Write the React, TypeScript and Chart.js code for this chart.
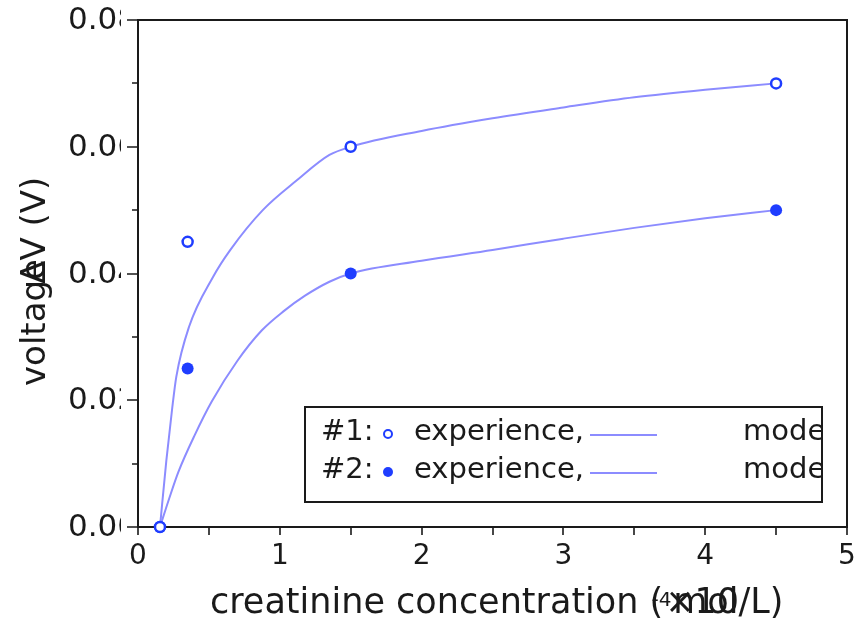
import React, { useEffect, useRef } from "react";
import { Chart, registerables } from "chart.js";

Chart.register(...registerables);

// ---- data ----
const expX = [0.155, 0.35, 1.5, 4.5];
const exp1 = [0, 0.045, 0.06, 0.07];
const exp2 = [0, 0.025, 0.04, 0.05];

const model1X = [0.155, 0.2, 0.24, 0.27, 0.36, 0.53, 0.65, 0.88, 1.12, 1.35, 1.5, 2.0, 2.5, 3.0, 3.5, 4.0, 4.5];
const model1 = [0, 0.0105, 0.0185, 0.0237, 0.0316, 0.0395, 0.0437, 0.05, 0.0547, 0.0587, 0.06, 0.0625, 0.0645, 0.0662, 0.0678, 0.069, 0.07];

const model2X = [0.155, 0.22, 0.285, 0.4, 0.52, 0.7, 0.872, 1.03, 1.178, 1.35, 1.5, 2.0, 2.5, 3.0, 3.5, 4.0, 4.5];
const model2 = [0, 0.0045, 0.0087, 0.0145, 0.0198, 0.0262, 0.031, 0.0341, 0.0365, 0.0387, 0.04, 0.042, 0.0437, 0.0455, 0.0472, 0.0487, 0.05];

const xTickValues = [0, 0.5, 1, 1.5, 2, 2.5, 3, 3.5, 4, 4.5, 5];
const xLabelValues = [0, 1, 2, 3, 4, 5];
const xLabels = ["0", "1", "2", "3", "4", "5"];
const yMajorValues = [0, 0.02, 0.04, 0.06, 0.08];
const yMajorLabels = ["0.00", "0.02", "0.04", "0.06", "0.08"];
const yMinorValues = [0.01, 0.03, 0.05, 0.07];

const legendRows = ["#1:", "#2:"];
const legendExp = "experience,";
const legendModel = "model";

const BLUE = "#1f3dff";
const LINE = "#8c8cff";
const INK = "#1a1a1a";
const FONT = "'DejaVu Sans', sans-serif";

const pts = (xs: number[], ys: number[]) => xs.map((x, i) => ({ x, y: ys[i] }));

const axesPlugin = {
  id: "customAxes",
  beforeDatasetsDraw(chart: any) {
    const { ctx, chartArea: a, scales } = chart;
    const x = scales.x;
    const y = scales.y;
    ctx.save();
    ctx.strokeStyle = INK;
    ctx.lineWidth = 2;
    ctx.strokeRect(a.left, a.top, a.right - a.left, a.bottom - a.top);
    ctx.lineWidth = 1.6;
    ctx.beginPath();
    yMajorValues.forEach((v) => {
      const py = Math.round(y.getPixelForValue(v));
      ctx.moveTo(a.left - 11, py);
      ctx.lineTo(a.left, py);
    });
    yMinorValues.forEach((v) => {
      const py = Math.round(y.getPixelForValue(v));
      ctx.moveTo(a.left - 6, py);
      ctx.lineTo(a.left, py);
    });
    xTickValues.forEach((v) => {
      const px = Math.round(x.getPixelForValue(v));
      ctx.moveTo(px, a.bottom);
      ctx.lineTo(px, a.bottom + 8);
    });
    ctx.stroke();

    // y tick labels (clipped as in original)
    ctx.save();
    ctx.beginPath();
    ctx.rect(0, 0, 121, chart.height);
    ctx.clip();
    ctx.fillStyle = INK;
    ctx.font = `31px ${FONT}`;
    ctx.textAlign = "left";
    ctx.textBaseline = "middle";
    yMajorValues.forEach((v, i) => {
      ctx.fillText(yMajorLabels[i], 68, y.getPixelForValue(v) + 1);
    });
    ctx.restore();

    // x tick labels
    ctx.fillStyle = INK;
    ctx.font = `28px ${FONT}`;
    ctx.textAlign = "center";
    ctx.textBaseline = "middle";
    xLabelValues.forEach((v, i) => {
      ctx.fillText(xLabels[i], x.getPixelForValue(v), a.bottom + 30);
    });

    // x title
    ctx.font = `35px ${FONT}`;
    ctx.textAlign = "left";
    const head = "creatinine concentration (";
    const tx = 210;
    const ty = a.bottom + 77;
    ctx.fillText(head, tx, ty);
    const wHead = ctx.measureText(head).width;
    const wParen = ctx.measureText("(").width;
    ctx.fillText("mol/L)", tx + wHead + 10, ty);
    ctx.fillText("×10", tx + wHead + 2, ty);
    ctx.font = `20px ${FONT}`;
    ctx.textBaseline = "alphabetic";
    ctx.fillText("-4", tx + wHead - wParen + 2, ty + 2);

    // y title
    ctx.save();
    ctx.translate(36, 386);
    ctx.rotate(-Math.PI / 2);
    ctx.font = `34px ${FONT}`;
    ctx.textAlign = "left";
    ctx.textBaseline = "middle";
    ctx.fillText("voltage", 0, 0);
    const wv = ctx.measureText("voltag").width;
    ctx.fillText("ΔV (V)", wv - 4, 0);
    ctx.restore();

    ctx.restore();
  },
  afterDraw(chart: any) {
    const { ctx } = chart;
    const L = 305, T = 407, R = 822, B = 502;
    ctx.save();
    ctx.fillStyle = "#ffffff";
    ctx.fillRect(L, T, R - L, B - T);
    ctx.strokeStyle = INK;
    ctx.lineWidth = 2;
    ctx.strokeRect(L, T, R - L, B - T);
    ctx.beginPath();
    ctx.rect(L, T, R - L - 1, B - T);
    ctx.clip();
    ctx.font = `29px ${FONT}`;
    ctx.textBaseline = "middle";
    ctx.textAlign = "left";
    legendRows.forEach((lab, i) => {
      const cy = 432 + i * 38;
      ctx.fillStyle = INK;
      ctx.fillText(lab, 321, cy);
      ctx.fillText(legendExp, 414, cy);
      ctx.fillText(legendModel, 743, cy);
      ctx.beginPath();
      ctx.arc(388, cy + 2, i === 0 ? 4 : 5, 0, Math.PI * 2);
      if (i === 0) {
        ctx.strokeStyle = BLUE;
        ctx.lineWidth = 2;
        ctx.stroke();
      } else {
        ctx.fillStyle = BLUE;
        ctx.fill();
      }
      ctx.beginPath();
      ctx.strokeStyle = LINE;
      ctx.lineWidth = 2;
      ctx.moveTo(590, cy + 3);
      ctx.lineTo(657, cy + 3);
      ctx.stroke();
    });
    ctx.restore();
  },
};

export default function App() {
  const ref = useRef<HTMLCanvasElement | null>(null);
  useEffect(() => {
    if (!ref.current) return;
    const chart = new Chart(ref.current, {
      type: "scatter",
      data: {
        datasets: [
          {
            label: "#1 experience",
            data: pts(expX, exp1),
            showLine: false,
            pointRadius: 5,
            pointBorderWidth: 2.5,
            pointBackgroundColor: "#ffffff",
            pointBorderColor: BLUE,
            clip: false,
          },
          {
            label: "#2 experience",
            data: pts(expX, exp2),
            showLine: false,
            pointRadius: 6,
            pointBorderWidth: 0,
            pointBackgroundColor: BLUE,
            pointBorderColor: BLUE,
            clip: false,
          },
          {
            label: "#1 model",
            data: pts(model1X, model1),
            showLine: true,
            pointRadius: 0,
            borderColor: LINE,
            borderWidth: 2,
            cubicInterpolationMode: "monotone",
            clip: false,
          },
          {
            label: "#2 model",
            data: pts(model2X, model2),
            showLine: true,
            pointRadius: 0,
            borderColor: LINE,
            borderWidth: 2,
            cubicInterpolationMode: "monotone",
            clip: false,
          },
        ] as any,
      },
      options: {
        animation: false,
        responsive: false,
        devicePixelRatio: 1,
        layout: { padding: { left: 138, top: 20, right: 15, bottom: 104 } },
        scales: {
          x: { type: "linear", min: 0, max: 5, display: false },
          y: { type: "linear", min: 0, max: 0.08, display: false },
        },
        plugins: { legend: { display: false }, tooltip: { enabled: false } },
      },
      plugins: [axesPlugin],
    });
    return () => chart.destroy();
  }, []);
  return (
    <canvas
      ref={ref}
      width={862}
      height={631}
      style={{ position: "fixed", left: 0, top: 0, width: 862, height: 631, background: "#fff" }}
    />
  );
}
